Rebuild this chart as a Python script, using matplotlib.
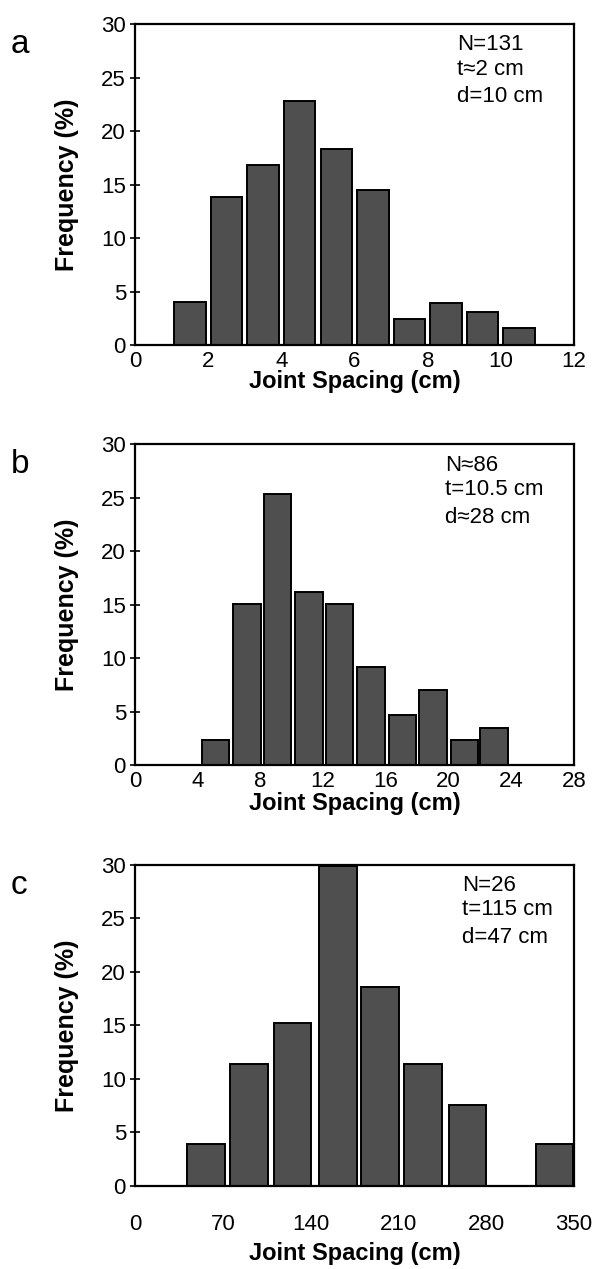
import matplotlib
matplotlib.use("Agg")
import matplotlib.pyplot as plt

# panel a: 1 cm bins
a_centers = [1.5, 2.5, 3.5, 4.5, 5.5, 6.5, 7.5, 8.5, 9.5, 10.5]
a_freq = [4.0, 13.8, 16.8, 22.8, 18.3, 14.5, 2.4, 3.9, 3.1, 1.6]

# panel b: 2 cm bins
b_centers = [5.15, 7.15, 9.1, 11.1, 13.05, 15.05, 17.05, 19.0, 21.0, 22.9]
b_freq = [2.4, 15.1, 25.3, 16.2, 15.1, 9.2, 4.7, 7.0, 2.4, 3.5]

# panel c: 35 cm bins
c_centers = [56.7, 91.0, 125.6, 161.7, 195.4, 229.7, 265.0, 334.4]
c_freq = [3.9, 11.4, 15.2, 29.9, 18.6, 11.4, 7.6, 3.9]

panels = [
    ("a", a_centers, a_freq, 0.86, 12, [0, 2, 4, 6, 8, 10, 12],
     ["N=131", "t\u22482 cm", "d=10 cm"], 0.733, 4, -1),
    ("b", b_centers, b_freq, 1.75, 28, [0, 4, 8, 12, 16, 20, 24, 28],
     ["N\u224886", "t=10.5 cm", "d\u224828 cm"], 0.706, 4, 0),
    ("c", c_centers, c_freq, 30, 350, [0, 70, 140, 210, 280, 350],
     ["N=26", "t=115 cm", "d=47 cm"], 0.745, 20, 5),
]

plt.rcParams['font.family'] = ['Liberation Sans', 'DejaVu Sans']

fig = plt.figure(figsize=(6.04, 12.69), dpi=100)

bottoms = [0.728, 0.397, 0.0654]
for (letter, cx, fr, w, xmax, xt, notes, nx, xpad, lpad), bot in zip(panels, bottoms):
    ax = fig.add_axes([0.2235, bot, 0.727, 0.253])
    ax.bar(cx, fr, width=w, color='#4f4f4f', edgecolor='black', linewidth=1.4)
    ax.set_xlim(0, xmax)
    ax.set_ylim(0, 30)
    ax.set_xticks(xt)
    ax.set_yticks([0, 5, 10, 15, 20, 25, 30])
    ax.tick_params(axis='y', direction='inout', length=7, width=1.2,
                   labelsize=16, pad=3)
    ax.tick_params(axis='x', direction='in', length=0, labelsize=16, pad=xpad)
    for s in ax.spines.values():
        s.set_linewidth(1.6)
    ax.set_xlabel("Joint Spacing (cm)", fontsize=17, fontweight='bold',
                  labelpad=lpad)
    ax.set_ylabel("Frequency (%)", fontsize=18, fontweight='bold', labelpad=16)
    ax.text(nx, 0.935, notes[0], transform=ax.transAxes, fontsize=16, va='center')
    ax.text(nx, 0.86, notes[1], transform=ax.transAxes, fontsize=16, va='center')
    ax.text(nx, 0.773, notes[2], transform=ax.transAxes, fontsize=16, va='center')
    fig.text(0.018, bot + 0.253 - 0.016, letter, fontsize=24, va='center')

fig.savefig("out.png", dpi=100)
